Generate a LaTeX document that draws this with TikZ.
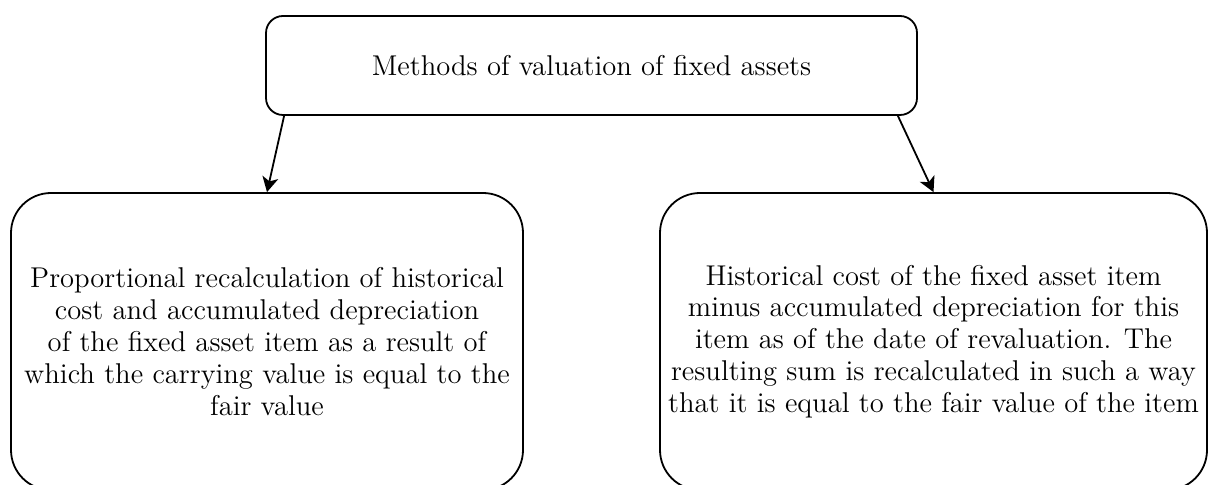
\documentclass[tikz,border=0pt]{standalone}
\usepackage{tikz}
\usetikzlibrary{arrows.meta}

\begin{document}
\begin{tikzpicture}
      [   x=0.5pt,y=-0.5pt,
          box/.style={draw=black,line width=0.9pt,rounded corners=#1,align=center,
                      font=\fontsize{14.3}{15.9}\selectfont,inner sep=0pt},
          link/.style={line width=0.9pt,-{Stealth[length=7.5pt,width=8pt,inset=2pt]}},
      ]
          \clip (0,0) rectangle (1208,485);
          % top node
          \node[box=8.5pt,minimum width=325.5pt,minimum height=49.5pt] (methods) at (591.5,65.5)
               {Methods of valuation of fixed assets};
          % the two methods
          \node[box=20pt,minimum width=256pt,minimum height=148.5pt] (prop) at (267,341.5)
               {Proportional recalculation of historical\\
                cost and accumulated depreciation\\
                of the fixed asset item as a result of\\
                which the carrying value is equal to the\\
                fair value};
          \node[box=20pt,minimum width=273.5pt,minimum height=148.5pt] (hist) at (933.5,341.5)
               {Historical cost of the fixed asset item\\
                minus accumulated depreciation for this\\
                item as of the date of revaluation. The\\
                resulting sum is recalculated in such a way\\
                that it is equal to the fair value of the item};
          \draw[link] ([xshift=9.5pt]methods.south west) -- (prop.north);
          \draw[link] ([xshift=-10pt]methods.south east) -- (hist.north);
    \end{tikzpicture}
\end{document}
